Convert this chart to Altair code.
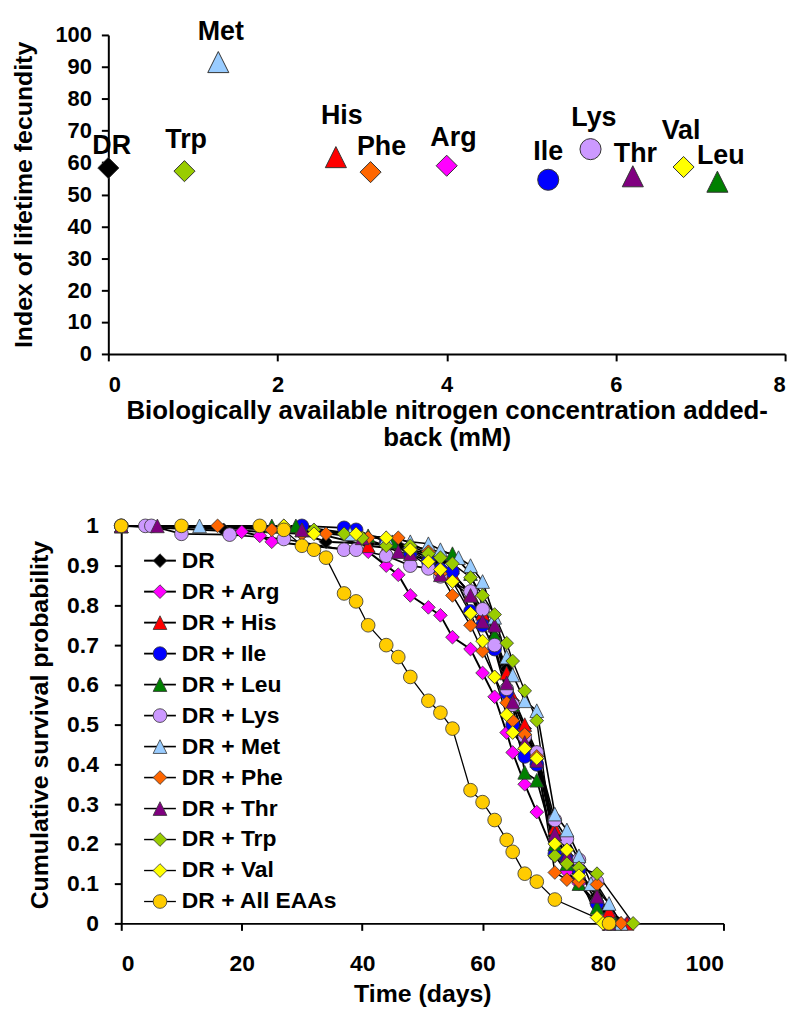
import altair as alt
import pandas as pd

FONT = "Liberation Sans"

# ---------------- Top panel data ----------------
aa_names = ["DR", "Trp", "Met", "His", "Phe", "Arg", "Ile", "Lys", "Thr", "Val", "Leu"]
nitrogen_mM = [0.0, 0.9, 1.3, 2.69, 3.1, 4.0, 5.2, 5.7, 6.2, 6.8, 7.2]
fecundity_index = [58.3, 57.3, 91.5, 61.7, 57.0, 59.0, 54.6, 64.2, 55.7, 58.6, 54.0]
label_x = [0.04, 0.92, 1.33, 2.76, 3.23, 4.08, 5.2, 5.74, 6.23, 6.77, 7.24]
label_y = [65.1, 67.0, 100.9, 74.5, 65.0, 67.6, 63.2, 73.8, 62.6, 70.0, 62.0]

# ---------------- Bottom panel data ----------------
series_names = ["DR", "DR + Arg", "DR + His", "DR + Ile", "DR + Leu", "DR + Lys",
                "DR + Met", "DR + Phe", "DR + Thr", "DR + Trp", "DR + Val", "DR + All EAAs"]

dr_days = [0, 10, 17, 30, 34, 41, 46, 48, 51, 53, 55, 58, 60, 62, 64, 65, 67, 69, 72, 74, 76, 79, 82]
dr_surv = [1, 1, 0.99, 0.98, 0.96, 0.955, 0.95, 0.94, 0.92, 0.91, 0.88, 0.83, 0.77, 0.72, 0.64, 0.56, 0.49, 0.42, 0.22, 0.17, 0.13, 0.07, 0]

arg_days = [0, 20, 23, 25, 41, 44, 46, 48, 51, 53, 55, 58, 60, 62, 64, 65, 67, 69, 72, 74, 76, 79, 81, 84]
arg_surv = [1, 0.985, 0.975, 0.96, 0.935, 0.90, 0.877, 0.825, 0.795, 0.775, 0.72, 0.69, 0.63, 0.57, 0.48, 0.43, 0.35, 0.28, 0.17, 0.13, 0.10, 0.05, 0.02, 0]

his_days = [0, 30, 41, 44, 48, 51, 53, 55, 58, 60, 62, 64, 65, 67, 69, 72, 74, 76, 79, 81, 84]
his_surv = [1, 0.99, 0.95, 0.945, 0.94, 0.93, 0.90, 0.88, 0.83, 0.78, 0.71, 0.63, 0.57, 0.50, 0.43, 0.24, 0.18, 0.12, 0.07, 0.03, 0]

ile_days = [0, 30, 37, 39, 44, 48, 51, 53, 55, 58, 60, 62, 64, 65, 67, 69, 72, 74, 76, 79, 81]
ile_surv = [1, 1, 0.995, 0.99, 0.96, 0.93, 0.91, 0.89, 0.885, 0.785, 0.75, 0.69, 0.58, 0.50, 0.42, 0.40, 0.175, 0.16, 0.135, 0.05, 0]

leu_days = [0, 25, 29, 41, 45, 48, 51, 55, 58, 60, 62, 64, 65, 67, 69, 72, 74, 76, 79, 82]
leu_surv = [1, 1, 1, 0.975, 0.96, 0.95, 0.94, 0.93, 0.88, 0.80, 0.725, 0.60, 0.55, 0.38, 0.36, 0.20, 0.15, 0.10, 0.04, 0]

lys_days = [0, 4, 5, 10, 18, 27, 37, 39, 44, 48, 51, 53, 58, 60, 62, 64, 65, 67, 69, 72, 74, 76, 79, 81]
lys_surv = [1, 1, 1, 0.98, 0.978, 0.967, 0.94, 0.94, 0.925, 0.90, 0.893, 0.873, 0.835, 0.79, 0.70, 0.59, 0.55, 0.47, 0.43, 0.26, 0.213, 0.16, 0.105, 0]

met_days = [0, 13, 30, 38, 44, 48, 51, 53, 56, 58, 60, 62, 64, 65, 67, 69, 72, 74, 76, 78, 81, 83]
met_surv = [1, 1, 0.99, 0.98, 0.97, 0.96, 0.955, 0.94, 0.92, 0.90, 0.86, 0.77, 0.67, 0.625, 0.56, 0.535, 0.275, 0.235, 0.17, 0.10, 0.05, 0]

phe_days = [0, 16, 25, 30, 34, 41, 46, 51, 53, 55, 58, 60, 62, 64, 65, 67, 69, 72, 74, 76, 79, 83]
phe_surv = [1, 1, 0.99, 0.98, 0.98, 0.97, 0.97, 0.935, 0.88, 0.825, 0.75, 0.685, 0.62, 0.555, 0.51, 0.475, 0.42, 0.128, 0.11, 0.105, 0.098, 0]

thr_days = [0, 6, 30, 40, 46, 48, 53, 58, 60, 62, 64, 65, 67, 69, 72, 74, 76, 79, 81]
thr_surv = [1, 1, 0.99, 0.97, 0.935, 0.93, 0.877, 0.825, 0.76, 0.75, 0.605, 0.557, 0.455, 0.41, 0.225, 0.17, 0.13, 0.068, 0]

trp_days = [0, 27, 32, 37, 40, 44, 48, 51, 53, 55, 58, 60, 62, 64, 65, 67, 69, 72, 74, 76, 79, 85]
trp_surv = [1, 1, 0.99, 0.98, 0.97, 0.95, 0.95, 0.93, 0.92, 0.905, 0.87, 0.825, 0.777, 0.705, 0.66, 0.585, 0.51, 0.17, 0.15, 0.14, 0.125, 0]

val_days = [0, 27, 32, 39, 44, 48, 51, 53, 55, 58, 60, 62, 64, 65, 67, 69, 72, 74, 76, 79, 80]
val_surv = [1, 1, 0.98, 0.98, 0.97, 0.94, 0.91, 0.89, 0.86, 0.78, 0.71, 0.62, 0.525, 0.48, 0.44, 0.415, 0.20, 0.185, 0.12, 0.015, 0]

all_days = [0, 10, 23, 27, 30, 32, 34, 37, 39, 41, 44, 46, 48, 51, 53, 55, 58, 60, 62, 64, 65, 67, 69, 72, 81]
all_surv = [1, 1, 1, 0.99, 0.95, 0.94, 0.92, 0.83, 0.81, 0.75, 0.70, 0.67, 0.62, 0.56, 0.53, 0.49, 0.335, 0.305, 0.26, 0.21, 0.18, 0.125, 0.105, 0.06, 0]

series_days = [dr_days, arg_days, his_days, ile_days, leu_days, lys_days,
               met_days, phe_days, thr_days, trp_days, val_days, all_days]
series_surv = [dr_surv, arg_surv, his_surv, ile_surv, leu_surv, lys_surv,
               met_surv, phe_surv, thr_surv, trp_surv, val_surv, all_surv]

# ---------------- Styles ----------------
TRI = "M0,-1L1,1L-1,1Z"
aa_colors = {"DR": "#000000", "Arg": "#FF00FF", "His": "#FF0000", "Ile": "#0000FF",
             "Leu": "#008000", "Lys": "#CC99FF", "Met": "#99CCFF", "Phe": "#FF6600",
             "Thr": "#800080", "Trp": "#99CC00", "Val": "#FFFF00", "All EAAs": "#FFCC00"}
aa_shapes = {"DR": "diamond", "Arg": "diamond", "His": TRI, "Ile": "circle",
             "Leu": TRI, "Lys": "circle", "Met": TRI, "Phe": "diamond",
             "Thr": TRI, "Trp": "diamond", "Val": "diamond", "All EAAs": "circle"}
series_keys = ["DR", "Arg", "His", "Ile", "Leu", "Lys", "Met", "Phe", "Thr", "Trp", "Val", "All EAAs"]
series_widths = [2, 1.3, 2, 2, 2, 2, 1.3, 2, 2, 2, 2, 2]

axis_common = dict(grid=False, domainColor="black", domainWidth=2, tickColor="black",
                   tickWidth=2, tickSize=7, labelColor="black", titleColor="black",
                   labelFont=FONT, titleFont=FONT, labelFontWeight="bold",
                   titleFontWeight="bold", labelOverlap=False)

# ---------------- Top chart ----------------
SHIFT = 13  # top panel's plot starts this many px left of the lower panel's
TOP_W = 668

top_df = pd.DataFrame({"aa": aa_names, "n": nitrogen_mM, "fec": fecundity_index,
                       "lx": label_x, "ly": label_y})
top_fill = alt.Scale(domain=aa_names, range=[aa_colors[a] for a in aa_names])
top_shape = alt.Scale(domain=aa_names, range=[aa_shapes[a] for a in aa_names])

top_x_scale = alt.Scale(domain=[0, 8], nice=False, range=[-SHIFT, TOP_W])
top_y_scale = alt.Scale(domain=[0, 100], nice=False)
top_x_axis = alt.Axis(values=[0, 2, 4, 6, 8], format="d", labelFontSize=22,
                      titleFontSize=26, labelPadding=14, titlePadding=2,
                      titleLineHeight=27,
                      title=["Biologically available nitrogen concentration added-",
                             "back (mM)"], **axis_common)
top_y_axis = alt.Axis(values=list(range(0, 101, 10)), labelFontSize=22,
                      titleFontSize=25, labelPadding=10, titlePadding=19, offset=SHIFT,
                      title="Index of lifetime fecundity", **axis_common)

top_pts = alt.Chart(top_df).mark_point(filled=True, size=450, stroke="#333333",
                                       strokeWidth=1, opacity=1).encode(
    x=alt.X("n:Q", scale=top_x_scale, axis=top_x_axis),
    y=alt.Y("fec:Q", scale=top_y_scale, axis=top_y_axis),
    fill=alt.Fill("aa:N", scale=top_fill, legend=None),
    shape=alt.Shape("aa:N", scale=top_shape, legend=None),
)
top_lbl = alt.Chart(top_df).mark_text(font=FONT, fontSize=27, fontWeight="bold",
                                      color="black", baseline="middle", align="center").encode(
    x=alt.X("lx:Q", scale=top_x_scale, axis=top_x_axis),
    y=alt.Y("ly:Q", scale=top_y_scale, axis=top_y_axis),
    text="aa:N")
top_chart = alt.layer(top_pts, top_lbl).properties(width=TOP_W, height=321)

# ---------------- Bottom chart ----------------
rows = []
for key, days, surv in zip(series_keys, series_days, series_surv):
    for d, s in zip(days, surv):
        rows.append({"series": key, "day": d, "surv": s})
surv_df = pd.DataFrame(rows)

fill_scale = alt.Scale(domain=series_keys, range=[aa_colors[k] for k in series_keys])
shape_scale = alt.Scale(domain=series_keys, range=[aa_shapes[k] for k in series_keys])
width_scale = alt.Scale(domain=series_keys, range=series_widths)

bx = alt.X("day:Q", scale=alt.Scale(domain=[0, 100], nice=False),
           axis=alt.Axis(values=list(range(0, 101, 20)), labelFontSize=23, titleFontSize=25,
                         labelPadding=22, titlePadding=7, title="Time (days)", **axis_common))
by = alt.Y("surv:Q", scale=alt.Scale(domain=[0, 1], nice=False),
           axis=alt.Axis(values=[i / 10 for i in range(11)], format=".1~f", labelFontSize=23,
                         titleFontSize=25, labelPadding=16, titlePadding=14,
                         title="Cumulative survival probability", **axis_common))

lines = alt.Chart(surv_df).mark_line(color="black").encode(
    x=bx, y=by, detail="series:N", order="day:Q",
    strokeWidth=alt.StrokeWidth("series:N", scale=width_scale, legend=None))
pts = alt.Chart(surv_df).mark_point(filled=True, size=190, stroke="#333333",
                                    strokeWidth=0.8, opacity=1).encode(
    x=bx, y=by,
    fill=alt.Fill("series:N", scale=fill_scale, legend=None),
    shape=alt.Shape("series:N", scale=shape_scale, legend=None))
main = alt.layer(lines, pts)

leg_df = pd.DataFrame({"series": series_keys, "label": series_names,
                       "row": list(range(len(series_keys)))})
leg_y = alt.Y("row:Q", scale=alt.Scale(domain=[0, 11], range=[35, 378]), axis=None)
leg_rule = alt.Chart(leg_df).mark_rule(color="black").encode(
    x=alt.value(23), x2=alt.value(55), y=leg_y,
    strokeWidth=alt.StrokeWidth("series:N", scale=width_scale, legend=None))
leg_pts = alt.Chart(leg_df).mark_point(filled=True, size=190, stroke="#333333",
                                       strokeWidth=0.8, opacity=1).encode(
    x=alt.value(39), y=leg_y,
    fill=alt.Fill("series:N", scale=fill_scale, legend=None),
    shape=alt.Shape("series:N", scale=shape_scale, legend=None))
leg_txt = alt.Chart(leg_df).mark_text(font=FONT, fontSize=23, fontWeight="bold",
                                      color="black", align="left", baseline="middle").encode(
    x=alt.value(61), y=leg_y, text="label:N")
legend = alt.layer(leg_rule, leg_pts, leg_txt)

bottom_chart = alt.layer(main, legend).resolve_scale(y="independent").properties(
    width=606, height=400)

chart = alt.vconcat(top_chart, bottom_chart, spacing=65).resolve_scale(
    fill="independent", shape="independent"
).properties(
    padding={"left": 11, "top": 15, "right": 0, "bottom": 0},
    background="white",
).configure_view(stroke=None)

chart.save("out.html", embed_options={"renderer": "svg", "actions": False})
